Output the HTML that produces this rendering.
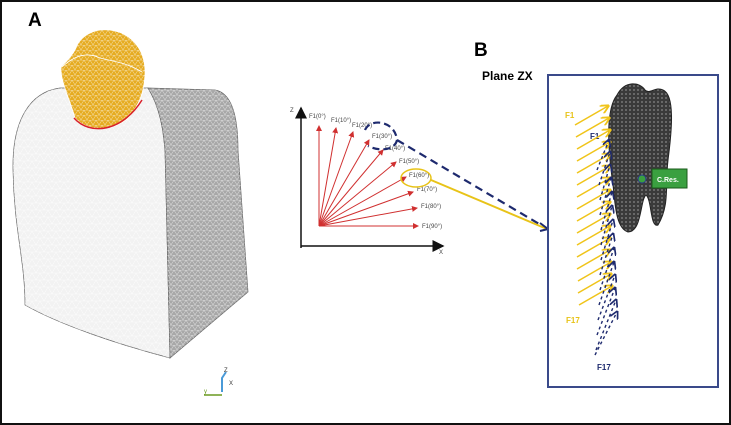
<!DOCTYPE html>
<html><head><meta charset="utf-8"><style>
html,body{margin:0;padding:0;background:#fff}
svg{display:block}
text{font-family:"Liberation Sans",sans-serif}
</style></head><body>
<svg width="731" height="425" viewBox="0 0 731 425">
<defs>
<pattern id="mesh" width="8" height="7" patternUnits="userSpaceOnUse">
<path d="M0 0L8 0M0 0L4 7L8 0M0 7L8 7" stroke="#fff" stroke-width="0.5" fill="none" opacity="0.8"/>
</pattern>
<pattern id="mesh2" width="6" height="5" patternUnits="userSpaceOnUse">
<path d="M0 0L6 0M0 0L3 5L6 0" stroke="#fff" stroke-width="0.5" fill="none" opacity="0.7"/>
</pattern>
<pattern id="tmesh" width="4" height="4" patternUnits="userSpaceOnUse">
<rect width="4" height="4" fill="#3a3a3a"/><circle cx="2" cy="2" r="0.9" fill="#888"/>
</pattern>
<marker id="ar" markerWidth="6" markerHeight="6" refX="5" refY="3" orient="auto"><path d="M0,0L6,3L0,6z" fill="#d03030"/></marker>
<marker id="ab" markerWidth="8" markerHeight="8" refX="7" refY="4" orient="auto"><path d="M0,0L8,4L0,8z" fill="#111"/></marker>
<marker id="ay" markerWidth="6" markerHeight="6" refX="5" refY="3" orient="auto"><path d="M0,0L6,3L0,6" fill="none" stroke="#f0c419" stroke-width="1.2"/></marker>
<marker id="an" markerWidth="6" markerHeight="6" refX="5" refY="3" orient="auto"><path d="M0,0L6,3L0,6" fill="none" stroke="#1e2a6e" stroke-width="1.2"/></marker>
</defs>
<rect x="1" y="1" width="729" height="423" fill="#fff" stroke="#111" stroke-width="2"/>
<text x="28" y="26" font-size="19" font-weight="bold">A</text>
<text x="474" y="56" font-size="19" font-weight="bold">B</text>
<text x="482" y="80" font-size="12" font-weight="bold">Plane ZX</text>

<!-- block -->
<path d="M13,170 C12,120 30,92 60,88 L148,88 C160,108 163,128 165,150 L170,358 C120,345 60,325 25,305 C25,260 14,230 13,170 Z" fill="#f2f2f2" stroke="#666" stroke-width="0.7"/>
<path d="M13,170 C12,120 30,92 60,88 L148,88 C160,108 163,128 165,150 L170,358 C120,345 60,325 25,305 C25,260 14,230 13,170 Z" fill="url(#mesh)"/>
<path d="M148,88 L215,90 C233,93 238,120 238,150 L248,292 L170,358 L165,150 C163,128 160,108 148,88 Z" fill="#a8a8a8" stroke="#666" stroke-width="0.7"/>
<path d="M148,88 L215,90 C233,93 238,120 238,150 L248,292 L170,358 L165,150 C163,128 160,108 148,88 Z" fill="url(#mesh2)"/>
<!-- crown -->
<path d="M75,118 C70,100 60,80 61,67 C68,60 72,55 75,50 C80,35 95,28 110,30 C132,33 146,50 145,75 C144,90 141,100 133,112 C122,130 90,135 75,118 Z" fill="#e6ac22" stroke="#fff" stroke-width="0.8"/>
<path d="M75,118 C70,100 60,80 61,67 C68,60 72,55 75,50 C80,35 95,28 110,30 C132,33 146,50 145,75 C144,90 141,100 133,112 C122,130 90,135 75,118 Z" fill="url(#mesh2)"/>
<path d="M62,67 C75,55 88,52 100,58 C115,62 125,62 142,72" fill="none" stroke="#fff" stroke-width="0.8"/>
<path d="M74,118 C90,136 122,132 142,100" fill="none" stroke="#d8202a" stroke-width="1.5"/>
<!-- triad -->
<path d="M222,392 L222,378 L226,372" stroke="#4a9ad8" stroke-width="2" fill="none"/>
<path d="M204,395 L222,395" stroke="#6a9a20" stroke-width="1.5"/>
<text x="224" y="372" font-size="6" fill="#333">Z</text>
<text x="229" y="385" font-size="6" fill="#333">X</text>
<text x="204" y="393" font-size="6" fill="#6a9a20">y</text>

<!-- polar diagram -->
<line x1="301" y1="248" x2="301" y2="108" stroke="#111" stroke-width="1.5" marker-end="url(#ab)"/>
<line x1="301" y1="246" x2="443" y2="246" stroke="#111" stroke-width="1.5" marker-end="url(#ab)"/>
<text x="290" y="112" font-size="6" fill="#444">Z</text>
<text x="439" y="254" font-size="6" fill="#444">X</text>
<g stroke="#d03030" stroke-width="1" marker-end="url(#ar)">
<line x1="319" y1="226" x2="319" y2="126"/>
<line x1="319" y1="226" x2="336" y2="128"/>
<line x1="319" y1="226" x2="353" y2="132"/>
<line x1="319" y1="226" x2="369" y2="140"/>
<line x1="319" y1="226" x2="383" y2="150"/>
<line x1="319" y1="226" x2="396" y2="162"/>
<line x1="319" y1="226" x2="406" y2="177"/>
<line x1="319" y1="226" x2="413" y2="192"/>
<line x1="319" y1="226" x2="417" y2="208"/>
<line x1="319" y1="226" x2="418" y2="226"/>
</g>
<g font-size="6" fill="#444">
<text x="309" y="118">F1(0°)</text>
<text x="331" y="122">F1(10°)</text>
<text x="352" y="127">F1(20°)</text>
<text x="372" y="138">F1(30°)</text>
<text x="385" y="150">F1(40°)</text>
<text x="399" y="163">F1(50°)</text>
<text x="409" y="177">F1(60°)</text>
<text x="417" y="191">F1(70°)</text>
<text x="421" y="208">F1(80°)</text>
<text x="422" y="228">F1(90°)</text>
</g>
<path d="M365,130 C370,118 395,120 397,140 C395,150 380,152 368,146" fill="none" stroke="#1e2a6e" stroke-width="2.2" stroke-dasharray="7,4"/>
<path d="M397,140 L546,228" stroke="#1e2a6e" stroke-width="2.2" stroke-dasharray="8,5" fill="none"/>
<ellipse cx="416" cy="178" rx="15" ry="9" fill="none" stroke="#e8c318" stroke-width="1.5"/>
<line x1="431" y1="180" x2="547" y2="229" stroke="#e8c318" stroke-width="2"/>
<path d="M540,223 L548,229 L540,231" fill="none" stroke="#1e2a6e" stroke-width="2"/>

<!-- right box -->
<rect x="548" y="75" width="170" height="312" fill="#fff" stroke="#3a4a8a" stroke-width="2"/>
<path d="M617,95 C625,80 640,82 645,90 C650,95 655,86 663,90 C675,95 672,130 668,160 C665,185 670,205 658,225 C650,228 652,200 646,195 C640,200 642,232 628,232 C615,228 615,200 613,185 C608,150 605,110 617,95 Z" fill="url(#tmesh)" stroke="#222"/>
<circle cx="642" cy="179" r="4" fill="#3aa040" stroke="#2a3a8a"/>
<rect x="652" y="169" width="35" height="19" fill="#3aa040" stroke="#1a5a1a"/>
<text x="657" y="182" font-size="7" font-weight="bold" fill="#fff">C.Res.</text>
<text x="565" y="118" font-size="8" font-weight="bold" fill="#e8c318">F1</text>
<text x="590" y="139" font-size="8" font-weight="bold" fill="#1e2a6e">F1</text>
<text x="566" y="323" font-size="8" font-weight="bold" fill="#e8c318">F17</text>
<text x="597" y="370" font-size="8" font-weight="bold" fill="#1e2a6e">F17</text>
<g stroke="#f0c419" stroke-width="1.5" marker-end="url(#ay)">
<line x1="575" y1="125" x2="608" y2="106"/>
<line x1="576" y1="137" x2="609" y2="118"/>
<line x1="577" y1="149" x2="610" y2="130"/>
<line x1="577" y1="161" x2="610" y2="142"/>
<line x1="577" y1="173" x2="610" y2="154"/>
<line x1="577" y1="185" x2="610" y2="166"/>
<line x1="577" y1="197" x2="610" y2="178"/>
<line x1="577" y1="209" x2="610" y2="190"/>
<line x1="577" y1="221" x2="610" y2="202"/>
<line x1="577" y1="233" x2="610" y2="214"/>
<line x1="577" y1="245" x2="610" y2="226"/>
<line x1="577" y1="257" x2="610" y2="238"/>
<line x1="577" y1="269" x2="610" y2="250"/>
<line x1="578" y1="281" x2="611" y2="262"/>
<line x1="578" y1="293" x2="611" y2="274"/>
<line x1="579" y1="305" x2="612" y2="286"/>
</g>
<g stroke="#1e2a6e" stroke-width="1.4" stroke-dasharray="3,3" marker-end="url(#an)">
<line x1="597" y1="170" x2="609" y2="140"/>
<line x1="599" y1="185" x2="610" y2="152"/>
<line x1="600" y1="200" x2="610" y2="165"/>
<line x1="600" y1="215" x2="611" y2="178"/>
<line x1="601" y1="230" x2="612" y2="192"/>
<line x1="601" y1="245" x2="612" y2="206"/>
<line x1="601" y1="260" x2="613" y2="220"/>
<line x1="600" y1="275" x2="613" y2="234"/>
<line x1="600" y1="290" x2="614" y2="248"/>
<line x1="599" y1="305" x2="614" y2="262"/>
<line x1="598" y1="320" x2="615" y2="275"/>
<line x1="597" y1="335" x2="615" y2="288"/>
<line x1="596" y1="350" x2="616" y2="300"/>
<line x1="595" y1="355" x2="617" y2="312"/>
</g>
</svg>
</body></html>
